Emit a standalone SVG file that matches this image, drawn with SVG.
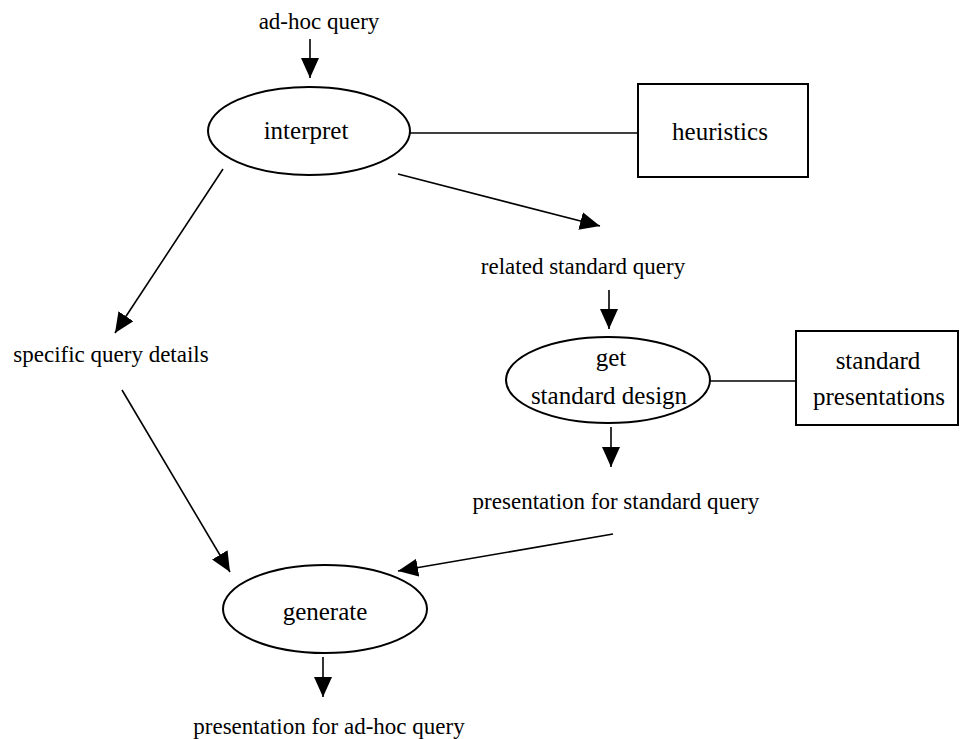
<svg xmlns="http://www.w3.org/2000/svg" width="962" height="739" viewBox="0 0 962 739">
<style>
.node{fill:#fff;stroke:#000;stroke-width:2}
.edge{stroke:#000;stroke-width:1.6;fill:none}
.nl{font-family:"Liberation Serif","Times New Roman",serif;font-size:25px;fill:#000;text-anchor:middle}
.el{font-family:"Liberation Serif","Times New Roman",serif;font-size:23px;fill:#000;text-anchor:middle}
</style>
<defs>
<marker id="ah" markerUnits="userSpaceOnUse" markerWidth="20" markerHeight="18" refX="20" refY="9" orient="auto">
<path d="M0,0 L20,9 L0,18 z" fill="#000"/>
</marker>
</defs>
<rect width="962" height="739" fill="#fff"/>
<g id="connectors">
<line class="edge" x1="310" y1="39" x2="310" y2="78" marker-end="url(#ah)"/>
<line class="edge" x1="410" y1="133" x2="638" y2="133"/>
<line class="edge" x1="398" y1="174" x2="600" y2="226" marker-end="url(#ah)"/>
<line class="edge" x1="609" y1="290" x2="609" y2="329" marker-end="url(#ah)"/>
<line class="edge" x1="710" y1="381" x2="796" y2="381"/>
<line class="edge" x1="611" y1="427" x2="611" y2="467" marker-end="url(#ah)"/>
<line class="edge" x1="613" y1="534" x2="398" y2="571" marker-end="url(#ah)"/>
<line class="edge" x1="223" y1="169" x2="115" y2="333" marker-end="url(#ah)"/>
<line class="edge" x1="122" y1="390" x2="230" y2="572" marker-end="url(#ah)"/>
<line class="edge" x1="323" y1="657" x2="323" y2="697" marker-end="url(#ah)"/>
</g>
<g id="label-adhoc"><text class="el" x="319" y="29">ad-hoc query</text></g>
<g id="interpret">
<ellipse class="node" cx="309" cy="131" rx="101" ry="44"/>
<text class="nl" x="306" y="139">interpret</text>
</g>
<g id="heuristics">
<rect class="node" x="638" y="84" width="170" height="93"/>
<text class="nl" x="720" y="140">heuristics</text>
</g>
<g id="label-related"><text class="el" x="583" y="274">related standard query</text></g>
<g id="get-standard-design">
<ellipse class="node" cx="608" cy="380" rx="102" ry="43"/>
<text class="nl" x="611" y="366">get</text>
<text class="nl" x="609" y="404">standard design</text>
</g>
<g id="standard-presentations">
<rect class="node" x="796" y="331" width="162" height="94"/>
<text class="nl" x="878" y="369">standard</text>
<text class="nl" x="879" y="405">presentations</text>
</g>
<g id="label-presentation-standard"><text class="el" x="616" y="509">presentation for standard query</text></g>
<g id="label-specific"><text class="el" x="111" y="362">specific query details</text></g>
<g id="generate">
<ellipse class="node" cx="325" cy="609" rx="102" ry="44"/>
<text class="nl" x="325" y="620">generate</text>
</g>
<g id="label-presentation-adhoc"><text class="el" x="329" y="734">presentation for ad-hoc query</text></g>
</svg>
